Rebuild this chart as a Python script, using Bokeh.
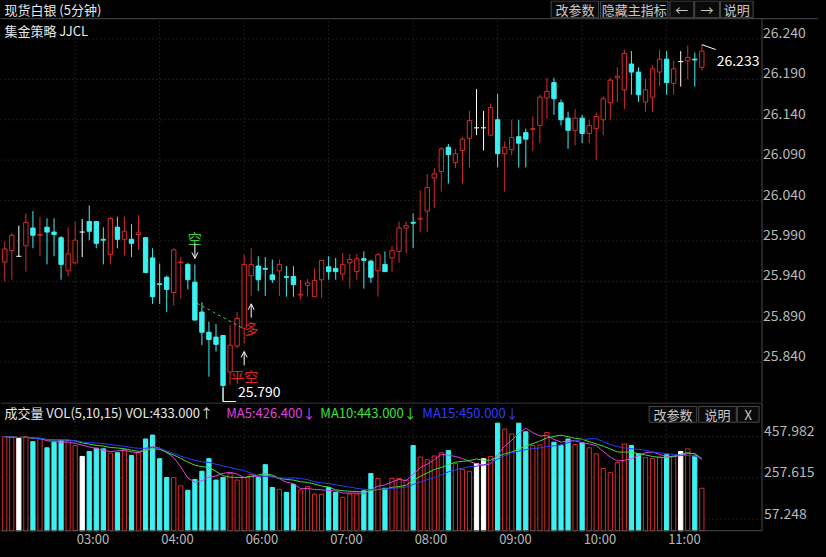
import pandas as pd
from bokeh.plotting import figure
from bokeh.layouts import column
from bokeh.models import Range1d, ColumnDataSource, Arrow, OpenHead, GlobalInlineStyleSheet
from bokeh.core.properties import value
from bokeh.embed import file_html
from bokeh.resources import INLINE

# ---------------- data (5-minute candles, spot silver) ----------------
opens = [25.964, 25.978, 25.971, 25.984, 26.006, 25.997, 26.007, 26.001, 25.994, 25.953,
         25.963, 26.001, 26.014, 26.014, 25.992, 25.973, 26.007, 25.992, 25.992, 25.998,
         25.994, 25.969, 25.937, 25.945, 25.926, 25.963, 25.961, 25.939, 25.902, 25.877,
         25.871, 25.873, 25.828, 25.860, 25.882, 25.947, 25.959, 25.956, 25.948, 25.953,
         25.946, 25.946, 25.923, 25.935, 25.921, 25.942, 25.958, 25.956, 25.949, 25.963,
         25.952, 25.968, 25.965, 25.953, 25.961, 25.969, 25.977, 26.006, 26.013, 26.017,
         26.027, 26.068, 26.076, 26.106, 26.087, 26.102, 26.117, 26.130, 26.130, 26.121,
         26.140, 26.098, 26.103, 26.119, 26.124, 26.128, 26.133, 26.167, 26.186, 26.161,
         26.142, 26.127, 26.142, 26.123, 26.129, 26.140, 26.161, 26.192, 26.177, 26.209,
         26.199, 26.162, 26.168, 26.199, 26.215, 26.185, 26.212, 26.213, 26.215, 26.205]
highs = [25.989, 26.000, 26.009, 26.024, 26.027, 26.020, 26.018, 26.018, 25.996, 26.007,
         26.014, 26.017, 26.034, 26.014, 26.007, 26.020, 26.020, 26.020, 26.011, 26.022,
         25.994, 25.981, 25.962, 25.947, 25.981, 25.970, 25.963, 25.961, 25.914, 25.890,
         25.887, 25.873, 25.886, 25.902, 25.973, 25.981, 25.971, 25.970, 25.967, 25.967,
         25.959, 25.959, 25.942, 25.943, 25.956, 25.966, 25.971, 25.969, 25.975, 25.974,
         25.974, 25.977, 25.967, 25.975, 25.977, 25.984, 26.014, 26.014, 26.024, 26.053,
         26.073, 26.080, 26.106, 26.110, 26.104, 26.119, 26.151, 26.178, 26.151, 26.160,
         26.172, 26.113, 26.140, 26.140, 26.129, 26.144, 26.171, 26.192, 26.192, 26.165,
         26.150, 26.153, 26.146, 26.140, 26.149, 26.169, 26.192, 26.205, 26.227, 26.225,
         26.205, 26.191, 26.207, 26.227, 26.225, 26.213, 26.225, 26.232, 26.223, 26.233]
lows = [25.940, 25.942, 25.971, 25.952, 25.981, 25.971, 25.961, 25.971, 25.942, 25.946,
        25.961, 25.970, 25.991, 25.981, 25.961, 25.961, 25.981, 25.972, 25.970, 25.979,
        25.950, 25.912, 25.912, 25.902, 25.910, 25.919, 25.930, 25.892, 25.861, 25.822,
        25.853, 25.790, 25.812, 25.857, 25.863, 25.922, 25.928, 25.922, 25.938, 25.922,
        25.921, 25.921, 25.918, 25.921, 25.921, 25.920, 25.942, 25.942, 25.941, 25.931,
        25.942, 25.931, 25.938, 25.921, 25.952, 25.952, 25.963, 25.975, 25.981, 26.001,
        26.001, 26.031, 26.051, 26.061, 26.080, 26.061, 26.081, 26.121, 26.102, 26.120,
        26.081, 26.051, 26.096, 26.081, 26.081, 26.101, 26.111, 26.141, 26.146, 26.133,
        26.104, 26.108, 26.111, 26.111, 26.090, 26.121, 26.140, 26.162, 26.153, 26.171,
        26.162, 26.150, 26.150, 26.182, 26.171, 26.171, 26.181, 26.190, 26.181, 26.201]
closes = [25.980, 25.997, 25.971, 26.013, 25.997, 25.998, 26.001, 25.998, 25.961, 25.974,
          25.991, 26.001, 26.002, 25.987, 25.991, 26.018, 25.992, 26.002, 25.987, 26.000,
          25.951, 25.921, 25.936, 25.930, 25.979, 25.964, 25.942, 25.892, 25.877, 25.868,
          25.862, 25.811, 25.861, 25.894, 25.961, 25.961, 25.942, 25.955, 25.942, 25.961,
          25.945, 25.936, 25.924, 25.938, 25.941, 25.966, 25.952, 25.952, 25.961, 25.967,
          25.968, 25.966, 25.945, 25.973, 25.952, 25.978, 26.006, 26.009, 26.012, 26.018,
          26.056, 26.073, 26.104, 26.097, 26.098, 26.116, 26.139, 26.130, 26.130, 26.155,
          26.098, 26.106, 26.118, 26.111, 26.116, 26.129, 26.168, 26.175, 26.166, 26.140,
          26.127, 26.142, 26.123, 26.133, 26.144, 26.166, 26.189, 26.194, 26.222, 26.199,
          26.171, 26.177, 26.203, 26.215, 26.186, 26.203, 26.212, 26.217, 26.214, 26.225]
volumes = [458, 455, 450, 458, 434, 447, 404, 431, 439, 439,
           415, 362, 386, 402, 399, 378, 380, 396, 367, 380,
           447, 466, 351, 259, 259, 219, 197, 250, 290, 351,
           247, 259, 279, 247, 259, 274, 259, 322, 211, 202,
           187, 226, 199, 215, 179, 178, 211, 187, 163, 179,
           179, 195, 279, 255, 207, 255, 255, 247, 415, 359,
           346, 364, 380, 391, 327, 298, 290, 327, 351, 362,
           524, 495, 471, 524, 482, 415, 418, 479, 431, 415,
           447, 420, 428, 404, 375, 303, 283, 332, 423, 415,
           375, 356, 351, 359, 370, 364, 386, 399, 364, 207]

price_ticks = [26.240, 26.190, 26.140, 26.090, 26.040, 25.990, 25.940, 25.890, 25.840]
vol_ticks = [457.982, 257.615, 57.248]
time_idx = [10, 22, 34, 46, 58, 70, 82, 94]
time_labels = ["03:00", "04:00", "06:00", "07:00", "08:00", "09:00", "10:00", "11:00"]
sig_idx = [27, 34, 35]
sig_text = ["空", "平空", "多"]
sig_side = ["above", "below", "below"]
trail_x = [27.3, 33.8]
trail_y = [25.913, 25.882]
ma_periods = [5, 10, 15]
title_text = "现货白银 (5分钟)"
strategy_text = "集金策略 JJCL"
vol_header = ["成交量 VOL(5,10,15) VOL:433.000↑", "MA5:426.400↓", "MA10:443.000↓", "MA15:450.000↓"]
top_buttons = ["改参数", "隐藏主指标", "←", "→", "说明"]
vol_buttons = ["改参数", "说明", "X"]

# ---------------- layout / style ----------------
FONT = "Noto Sans CJK SC"
RED = "#d82a2a"
CYAN = "#3cf0f0"
WHITE = "#ffffff"
GRID = "#3c3c3c"
FRAME = "#4a4a4a"
LABEL = "#b8b8b8"
MA_COLORS = ["#e040e0", "#38e038", "#2a3cff"]

X_PX0, X_PXS = 4.3, 7.11          # pixel of candle 0 and pixels per candle (reference)
REF_W = 826
FIG_W, MAIN_H, VOL_H = 818, 402, 147
P_TOP, P_PER_PX = 26.2876, 0.0012195
V_BASE, V_PER_PX = 538, 4.805


def xi(px):
    return (px - X_PX0) / X_PXS


def ym(py):
    return P_TOP - py * P_PER_PX


def yv(py):
    return (V_BASE - py) * V_PER_PX


def txt(fig, x, y, text, color, size="13px", align="left", baseline="middle", xo=0, yo=0):
    fig.text(x=x, y=y, text=text, text_color=color, text_font=value(FONT),
             text_font_size=value(size), text_align=align, text_baseline=baseline,
             x_offset=xo, y_offset=yo)


def make_fig(h, yr):
    f = figure(width=FIG_W, height=h, x_range=Range1d(xi(0), xi(REF_W)), y_range=yr,
               output_backend="svg", toolbar_location=None, x_axis_type=None, y_axis_type=None,
               background_fill_color="#000000", border_fill_color="#000000",
               outline_line_color=None, min_border=0)
    return f


def buttons(fig, labels, lefts, rights, top, bottom):
    fig.quad(left=lefts, right=rights, top=top, bottom=bottom,
             fill_color="#0a0a0a", line_color="#4a4a4a", line_width=1)
    txt(fig, [(a + b) / 2 for a, b in zip(lefts, rights)], [(top + bottom) / 2] * len(labels),
        labels, "#c8c8c8", align="center")


n = len(opens)
idx = list(range(n))
colors, fills = [], []
for o, c in zip(opens, closes):
    if c > o:
        colors.append(RED); fills.append("#000000")
    elif c < o:
        colors.append(CYAN); fills.append(CYAN)
    else:
        colors.append(WHITE); fills.append(WHITE)

# ---------------- main (price) panel ----------------
p = make_fig(MAIN_H, Range1d(ym(408), ym(0)))

p.segment(x0=xi(0), x1=xi(768), y0=price_ticks, y1=price_ticks, line_color=GRID, line_dash="1 3")
p.segment(x0=time_idx, x1=time_idx, y0=ym(408), y1=ym(19), line_color=GRID, line_dash="1 3")

src = ColumnDataSource(dict(x=idx, o=opens, h=highs, l=lows, c=closes, col=colors, fill=fills))
p.segment(x0="x", x1="x", y0="h", y1="l", line_color="col", line_width=1, source=src)
body_i = [i for i in idx if opens[i] != closes[i]]
flat_i = [i for i in idx if opens[i] == closes[i]]
p.vbar(x=[i for i in body_i], width=0.62,
       top=[max(opens[i], closes[i]) for i in body_i], bottom=[min(opens[i], closes[i]) for i in body_i],
       fill_color=[fills[i] for i in body_i], line_color=[colors[i] for i in body_i], line_width=1)
p.segment(x0=[i - 0.36 for i in flat_i], x1=[i + 0.36 for i in flat_i],
          y0=[opens[i] for i in flat_i], y1=[opens[i] for i in flat_i], line_color=WHITE, line_width=1)

# trailing dashed line
p.line(trail_x, trail_y, line_color="#3ad23a", line_dash="3 3", line_width=1)

# trade signals
for i, t, side in zip(sig_idx, sig_text, sig_side):
    if side == "above":
        base = highs[i]
        lab_y, tail, tip = base + 27 * P_PER_PX, base + 21 * P_PER_PX, base + 6 * P_PER_PX
        col = "#3ad23a"
    else:
        base = lows[i]
        lab_y, tail, tip = base - 33 * P_PER_PX, base - 22 * P_PER_PX, base - 8 * P_PER_PX
        col = "#e02424"
    p.add_layout(Arrow(end=OpenHead(size=6, line_color=WHITE, line_width=1),
                       x_start=i, y_start=tail, x_end=i, y_end=tip, line_color=WHITE, line_width=1))
    txt(p, [i], [lab_y], [t], col, size="14px", align="center")

# lowest / highest markers
lo_i = lows.index(min(lows))
hi_i = highs.index(max(highs))
lo_v, hi_v = lows[lo_i], highs[hi_i]
p.segment(x0=[lo_i, lo_i], x1=[lo_i, lo_i + 13 / X_PXS], y0=[lo_v + 15 * P_PER_PX, lo_v + 1 * P_PER_PX],
          y1=[lo_v + 1 * P_PER_PX, lo_v + 1 * P_PER_PX], line_color=WHITE, line_width=1)
txt(p, [lo_i + 15 / X_PXS], [lo_v], [f"{lo_v:.3f}"], WHITE, size="14px", yo=-11)
p.segment(x0=[hi_i], x1=[hi_i + 14 / X_PXS], y0=[hi_v], y1=[hi_v - 5 * P_PER_PX], line_color=WHITE, line_width=1)
txt(p, [hi_i + 15 / X_PXS], [hi_v], [f"{hi_v:.3f}"], WHITE, size="14px", yo=15.5)

# price labels on the right
txt(p, [xi(770)] * len(price_ticks), price_ticks, [f"{v:.3f}" for v in price_ticks], LABEL, size="14px", yo=-6.5)

# frame lines
p.segment(x0=xi(0), x1=xi(REF_W), y0=ym(18.5), y1=ym(18.5), line_color=FRAME)
p.segment(x0=xi(769), x1=xi(769), y0=ym(18.5), y1=ym(408), line_color=FRAME)

# title bar
txt(p, [xi(4)], [ym(9.5)], [title_text], "#e8e8e8")
txt(p, [xi(4)], [ym(30)], [strategy_text], "#e8e8e8")
buttons(p, top_buttons, [xi(556), xi(606), xi(676), xi(701), xi(727)],
        [xi(604), xi(674), xi(700), xi(726), xi(760)], ym(0.5), ym(17.5))

# ---------------- volume panel ----------------
v = make_fig(VOL_H, Range1d(yv(557), yv(408)))
v.x_range = p.x_range

v.segment(x0=xi(0), x1=xi(768), y0=vol_ticks, y1=vol_ticks, line_color=GRID, line_dash="1 3")
v.segment(x0=time_idx, x1=time_idx, y0=0, y1=yv(408), line_color=GRID, line_dash="1 3")

v.vbar(x=idx, width=0.6, top=volumes, bottom=0, fill_color=fills, line_color=colors, line_width=1)

vs = pd.Series(volumes, dtype=float)
for per, col in zip(ma_periods, MA_COLORS):
    v.line(idx, vs.rolling(per, min_periods=1).mean().tolist(), line_color=col, line_width=1)

txt(v, [xi(771)] * len(vol_ticks), vol_ticks, [f"{t:.3f}" for t in vol_ticks], LABEL, size="14px", yo=-6)
txt(v, [t for t in time_idx], [yv(546)] * len(time_idx), time_labels, LABEL, size="13px", xo=1.5)

v.segment(x0=xi(0), x1=xi(769), y0=yv(408.5), y1=yv(408.5), line_color=FRAME)
v.segment(x0=xi(0), x1=xi(769), y0=yv(538), y1=yv(538), line_color=FRAME)
v.segment(x0=xi(769), x1=xi(769), y0=yv(408), y1=yv(538), line_color=FRAME)

hdr_x = [xi(4), xi(228), xi(323), xi(426)]
hdr_c = ["#e8e8e8"] + MA_COLORS
txt(v, hdr_x, [yv(418)] * 4, vol_header, hdr_c)
buttons(v, vol_buttons, [xi(655), xi(705), xi(744)], [xi(703), xi(743), xi(766)], yv(412), yv(428))

layout = column(p, v, spacing=0,
                stylesheets=[GlobalInlineStyleSheet(css="body{background:#000000;}")])
open("out.html", "w").write(file_html(layout, INLINE))
